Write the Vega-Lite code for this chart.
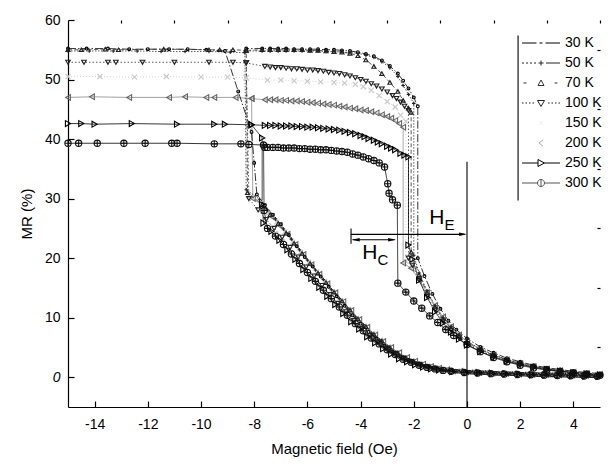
{
"$schema":"https://vega.github.io/schema/vega-lite/v6.json",
"width":532,"height":387,
"autosize":{"type":"none"},
"padding":{"left":68,"top":20,"right":10,"bottom":59},
"background":"white",
"config":{"view":{"stroke":null},"font":"Liberation Sans"},
"datasets":{
"mr":[
{"T":"150 K","b":"u","x":-15,"y":50.5},{"T":"150 K","b":"u","x":-13.8,"y":50.5},{"T":"150 K","b":"u","x":-12.5,"y":50.4},{"T":"150 K","b":"u","x":-11.3,"y":50.5},{"T":"150 K","b":"u","x":-10,"y":50.4},{"T":"150 K","b":"u","x":-9,"y":50.4},{"T":"150 K","b":"u","x":-8.3,"y":50.3},{"T":"150 K","b":"u","x":-8.2,"y":30.5},{"T":"150 K","b":"u","x":-7.75,"y":29.3},{"T":"150 K","b":"u","x":-7.45,"y":27.6},{"T":"150 K","b":"u","x":-7.15,"y":26.1},{"T":"150 K","b":"u","x":-6.85,"y":24.4},{"T":"150 K","b":"u","x":-6.55,"y":22.7},{"T":"150 K","b":"u","x":-6.25,"y":21},{"T":"150 K","b":"u","x":-5.95,"y":19.3},{"T":"150 K","b":"u","x":-5.65,"y":17.7},{"T":"150 K","b":"u","x":-5.35,"y":16.1},{"T":"150 K","b":"u","x":-5.05,"y":14.4},{"T":"150 K","b":"u","x":-4.75,"y":12.9},{"T":"150 K","b":"u","x":-4.45,"y":11.4},{"T":"150 K","b":"u","x":-4.15,"y":9.9},{"T":"150 K","b":"u","x":-3.85,"y":8.6},{"T":"150 K","b":"u","x":-3.55,"y":7.3},{"T":"150 K","b":"u","x":-3.25,"y":6.2},{"T":"150 K","b":"u","x":-2.95,"y":5.1},{"T":"150 K","b":"u","x":-2.65,"y":4.1},{"T":"150 K","b":"u","x":-2.35,"y":3.3},{"T":"150 K","b":"u","x":-2.05,"y":2.7},{"T":"150 K","b":"u","x":-1.75,"y":2.2},{"T":"150 K","b":"u","x":-1.45,"y":1.8},{"T":"150 K","b":"u","x":-1.15,"y":1.5},{"T":"150 K","b":"u","x":-0.85,"y":1.25},{"T":"150 K","b":"u","x":-0.35,"y":1},{"T":"150 K","b":"u","x":0.15,"y":0.85},{"T":"150 K","b":"u","x":0.65,"y":0.75},{"T":"150 K","b":"u","x":1.15,"y":0.65},{"T":"150 K","b":"u","x":1.65,"y":0.6},{"T":"150 K","b":"u","x":2.15,"y":0.5},{"T":"150 K","b":"u","x":2.65,"y":0.45},{"T":"150 K","b":"u","x":3.15,"y":0.4},{"T":"150 K","b":"u","x":3.65,"y":0.35},{"T":"150 K","b":"u","x":4.15,"y":0.3},{"T":"150 K","b":"u","x":4.65,"y":0.25},
{"T":"150 K","b":"d","x":5,"y":0.5},{"T":"150 K","b":"d","x":4.5,"y":0.7},{"T":"150 K","b":"d","x":4,"y":0.9},{"T":"150 K","b":"d","x":3.5,"y":1.15},{"T":"150 K","b":"d","x":3,"y":1.45},{"T":"150 K","b":"d","x":2.5,"y":1.85},{"T":"150 K","b":"d","x":2,"y":2.35},{"T":"150 K","b":"d","x":1.5,"y":3},{"T":"150 K","b":"d","x":1,"y":3.8},{"T":"150 K","b":"d","x":0.5,"y":4.8},{"T":"150 K","b":"d","x":0,"y":6.1},{"T":"150 K","b":"d","x":-0.3,"y":7.2},{"T":"150 K","b":"d","x":-0.6,"y":8.6},{"T":"150 K","b":"d","x":-0.9,"y":10.2},{"T":"150 K","b":"d","x":-1.2,"y":12.2},{"T":"150 K","b":"d","x":-1.5,"y":14.5},{"T":"150 K","b":"d","x":-1.8,"y":16.8},{"T":"150 K","b":"d","x":-2.1,"y":18.8},{"T":"150 K","b":"d","x":-2.3,"y":19.5},{"T":"150 K","b":"d","x":-2.3,"y":43},{"T":"150 K","b":"d","x":-2.5,"y":44},{"T":"150 K","b":"d","x":-2.7,"y":45.4},{"T":"150 K","b":"d","x":-3,"y":46.3},{"T":"150 K","b":"d","x":-3.3,"y":47.3},{"T":"150 K","b":"d","x":-3.6,"y":48.2},{"T":"150 K","b":"d","x":-3.9,"y":48.8},{"T":"150 K","b":"d","x":-4.2,"y":49.2},{"T":"150 K","b":"d","x":-4.6,"y":49.4},{"T":"150 K","b":"d","x":-5,"y":49.5},{"T":"150 K","b":"d","x":-5.5,"y":49.6},{"T":"150 K","b":"d","x":-6,"y":49.7},{"T":"150 K","b":"d","x":-6.5,"y":49.8},{"T":"150 K","b":"d","x":-7,"y":49.9},{"T":"150 K","b":"d","x":-7.5,"y":49.9},{"T":"150 K","b":"d","x":-8.3,"y":50.3},
{"T":"200 K","b":"u","x":-15,"y":47},{"T":"200 K","b":"u","x":-14.1,"y":47.1},{"T":"200 K","b":"u","x":-12.7,"y":47},{"T":"200 K","b":"u","x":-11.2,"y":47},{"T":"200 K","b":"u","x":-10.6,"y":47.1},{"T":"200 K","b":"u","x":-9.8,"y":47},{"T":"200 K","b":"u","x":-9.5,"y":47},{"T":"200 K","b":"u","x":-8.7,"y":47},{"T":"200 K","b":"u","x":-8.1,"y":46.8},{"T":"200 K","b":"u","x":-8.05,"y":30},{"T":"200 K","b":"u","x":-7.65,"y":28.7},{"T":"200 K","b":"u","x":-7.35,"y":27},{"T":"200 K","b":"u","x":-7.05,"y":25.5},{"T":"200 K","b":"u","x":-6.75,"y":24},{"T":"200 K","b":"u","x":-6.45,"y":22.3},{"T":"200 K","b":"u","x":-6.15,"y":20.6},{"T":"200 K","b":"u","x":-5.85,"y":18.9},{"T":"200 K","b":"u","x":-5.55,"y":17.3},{"T":"200 K","b":"u","x":-5.25,"y":15.7},{"T":"200 K","b":"u","x":-4.95,"y":14.2},{"T":"200 K","b":"u","x":-4.65,"y":12.7},{"T":"200 K","b":"u","x":-4.35,"y":11.2},{"T":"200 K","b":"u","x":-4.05,"y":9.7},{"T":"200 K","b":"u","x":-3.75,"y":8.4},{"T":"200 K","b":"u","x":-3.45,"y":7.1},{"T":"200 K","b":"u","x":-3.15,"y":6},{"T":"200 K","b":"u","x":-2.85,"y":5},{"T":"200 K","b":"u","x":-2.55,"y":4.1},{"T":"200 K","b":"u","x":-2.25,"y":3.3},{"T":"200 K","b":"u","x":-1.95,"y":2.7},{"T":"200 K","b":"u","x":-1.65,"y":2.2},{"T":"200 K","b":"u","x":-1.35,"y":1.8},{"T":"200 K","b":"u","x":-1.05,"y":1.5},{"T":"200 K","b":"u","x":-0.75,"y":1.25},{"T":"200 K","b":"u","x":-0.25,"y":1},{"T":"200 K","b":"u","x":0.25,"y":0.85},{"T":"200 K","b":"u","x":0.75,"y":0.75},{"T":"200 K","b":"u","x":1.25,"y":0.65},{"T":"200 K","b":"u","x":1.75,"y":0.6},{"T":"200 K","b":"u","x":2.25,"y":0.5},{"T":"200 K","b":"u","x":2.75,"y":0.45},{"T":"200 K","b":"u","x":3.25,"y":0.4},{"T":"200 K","b":"u","x":3.75,"y":0.35},{"T":"200 K","b":"u","x":4.25,"y":0.3},{"T":"200 K","b":"u","x":4.75,"y":0.25},
{"T":"200 K","b":"d","x":5,"y":0.45},{"T":"200 K","b":"d","x":4.5,"y":0.65},{"T":"200 K","b":"d","x":4,"y":0.85},{"T":"200 K","b":"d","x":3.5,"y":1.1},{"T":"200 K","b":"d","x":3,"y":1.4},{"T":"200 K","b":"d","x":2.5,"y":1.8},{"T":"200 K","b":"d","x":2,"y":2.3},{"T":"200 K","b":"d","x":1.5,"y":2.9},{"T":"200 K","b":"d","x":1,"y":3.7},{"T":"200 K","b":"d","x":0.5,"y":4.7},{"T":"200 K","b":"d","x":0,"y":6},{"T":"200 K","b":"d","x":-0.3,"y":7.1},{"T":"200 K","b":"d","x":-0.6,"y":8.5},{"T":"200 K","b":"d","x":-0.9,"y":10.1},{"T":"200 K","b":"d","x":-1.2,"y":12},{"T":"200 K","b":"d","x":-1.5,"y":14.2},{"T":"200 K","b":"d","x":-1.8,"y":16.4},{"T":"200 K","b":"d","x":-2.1,"y":18.3},{"T":"200 K","b":"d","x":-2.4,"y":19.2},{"T":"200 K","b":"d","x":-2.4,"y":42},{"T":"200 K","b":"d","x":-2.55,"y":42.6},{"T":"200 K","b":"d","x":-2.7,"y":43.1},{"T":"200 K","b":"d","x":-2.85,"y":43.5},{"T":"200 K","b":"d","x":-3,"y":43.8},{"T":"200 K","b":"d","x":-3.2,"y":44.1},{"T":"200 K","b":"d","x":-3.4,"y":44.4},{"T":"200 K","b":"d","x":-3.6,"y":44.6},{"T":"200 K","b":"d","x":-3.8,"y":44.8},{"T":"200 K","b":"d","x":-4,"y":44.9},{"T":"200 K","b":"d","x":-4.2,"y":45.1},{"T":"200 K","b":"d","x":-4.4,"y":45.2},{"T":"200 K","b":"d","x":-4.6,"y":45.4},{"T":"200 K","b":"d","x":-4.8,"y":45.5},{"T":"200 K","b":"d","x":-5,"y":45.7},{"T":"200 K","b":"d","x":-5.2,"y":45.8},{"T":"200 K","b":"d","x":-5.4,"y":45.9},{"T":"200 K","b":"d","x":-5.6,"y":46},{"T":"200 K","b":"d","x":-5.8,"y":46.1},{"T":"200 K","b":"d","x":-6,"y":46.2},{"T":"200 K","b":"d","x":-6.2,"y":46.3},{"T":"200 K","b":"d","x":-6.4,"y":46.4},{"T":"200 K","b":"d","x":-6.6,"y":46.4},{"T":"200 K","b":"d","x":-6.8,"y":46.5},{"T":"200 K","b":"d","x":-7,"y":46.5},{"T":"200 K","b":"d","x":-7.2,"y":46.6},{"T":"200 K","b":"d","x":-7.4,"y":46.6},{"T":"200 K","b":"d","x":-7.6,"y":46.6},{"T":"200 K","b":"d","x":-8.1,"y":46.8},
{"T":"30 K","b":"u","x":-15,"y":55.2},{"T":"30 K","b":"u","x":-14.3,"y":55.2},{"T":"30 K","b":"u","x":-13.5,"y":55.2},{"T":"30 K","b":"u","x":-12.7,"y":55.1},{"T":"30 K","b":"u","x":-12,"y":55.1},{"T":"30 K","b":"u","x":-11.2,"y":55.1},{"T":"30 K","b":"u","x":-10.5,"y":55.1},{"T":"30 K","b":"u","x":-9.8,"y":55},{"T":"30 K","b":"u","x":-9.1,"y":54.8},{"T":"30 K","b":"u","x":-8.6,"y":48},{"T":"30 K","b":"u","x":-8.1,"y":41.2},{"T":"30 K","b":"u","x":-8,"y":36},{"T":"30 K","b":"u","x":-7.9,"y":30.7},{"T":"30 K","b":"u","x":-7.6,"y":28.9},{"T":"30 K","b":"u","x":-7.3,"y":27.3},{"T":"30 K","b":"u","x":-7,"y":25.7},{"T":"30 K","b":"u","x":-6.7,"y":23.9},{"T":"30 K","b":"u","x":-6.4,"y":22},{"T":"30 K","b":"u","x":-6.1,"y":20.2},{"T":"30 K","b":"u","x":-5.8,"y":18.6},{"T":"30 K","b":"u","x":-5.5,"y":16.9},{"T":"30 K","b":"u","x":-5.2,"y":15.2},{"T":"30 K","b":"u","x":-4.9,"y":13.6},{"T":"30 K","b":"u","x":-4.6,"y":12},{"T":"30 K","b":"u","x":-4.3,"y":10.4},{"T":"30 K","b":"u","x":-4,"y":9},{"T":"30 K","b":"u","x":-3.7,"y":7.6},{"T":"30 K","b":"u","x":-3.4,"y":6.5},{"T":"30 K","b":"u","x":-3.1,"y":5.3},{"T":"30 K","b":"u","x":-2.8,"y":4.3},{"T":"30 K","b":"u","x":-2.5,"y":3.5},{"T":"30 K","b":"u","x":-2.2,"y":2.9},{"T":"30 K","b":"u","x":-1.9,"y":2.3},{"T":"30 K","b":"u","x":-1.6,"y":1.9},{"T":"30 K","b":"u","x":-1.3,"y":1.6},{"T":"30 K","b":"u","x":-1,"y":1.3},{"T":"30 K","b":"u","x":-0.5,"y":1.05},{"T":"30 K","b":"u","x":0,"y":0.9},{"T":"30 K","b":"u","x":0.5,"y":0.8},{"T":"30 K","b":"u","x":1,"y":0.7},{"T":"30 K","b":"u","x":1.5,"y":0.6},{"T":"30 K","b":"u","x":2,"y":0.55},{"T":"30 K","b":"u","x":2.5,"y":0.5},{"T":"30 K","b":"u","x":3,"y":0.45},{"T":"30 K","b":"u","x":3.5,"y":0.4},{"T":"30 K","b":"u","x":4,"y":0.35},{"T":"30 K","b":"u","x":4.5,"y":0.3},{"T":"30 K","b":"u","x":5,"y":0.25},
{"T":"30 K","b":"d","x":5,"y":0.6},{"T":"30 K","b":"d","x":4.5,"y":0.8},{"T":"30 K","b":"d","x":4,"y":1},{"T":"30 K","b":"d","x":3.5,"y":1.3},{"T":"30 K","b":"d","x":3,"y":1.6},{"T":"30 K","b":"d","x":2.5,"y":2},{"T":"30 K","b":"d","x":2,"y":2.6},{"T":"30 K","b":"d","x":1.5,"y":3.2},{"T":"30 K","b":"d","x":1,"y":4.1},{"T":"30 K","b":"d","x":0.5,"y":5.1},{"T":"30 K","b":"d","x":0,"y":6.5},{"T":"30 K","b":"d","x":-0.4,"y":8},{"T":"30 K","b":"d","x":-0.7,"y":9.5},{"T":"30 K","b":"d","x":-1,"y":11.5},{"T":"30 K","b":"d","x":-1.3,"y":14},{"T":"30 K","b":"d","x":-1.6,"y":17},{"T":"30 K","b":"d","x":-1.85,"y":20},{"T":"30 K","b":"d","x":-1.85,"y":45.5},{"T":"30 K","b":"d","x":-2,"y":47},{"T":"30 K","b":"d","x":-2.2,"y":48.5},{"T":"30 K","b":"d","x":-2.4,"y":49.8},{"T":"30 K","b":"d","x":-2.6,"y":51},{"T":"30 K","b":"d","x":-2.9,"y":52.3},{"T":"30 K","b":"d","x":-3.2,"y":53.2},{"T":"30 K","b":"d","x":-3.5,"y":53.9},{"T":"30 K","b":"d","x":-3.8,"y":54.3},{"T":"30 K","b":"d","x":-4.1,"y":54.6},{"T":"30 K","b":"d","x":-4.4,"y":54.8},{"T":"30 K","b":"d","x":-4.7,"y":54.9},{"T":"30 K","b":"d","x":-5,"y":55},{"T":"30 K","b":"d","x":-5.3,"y":55},{"T":"30 K","b":"d","x":-5.6,"y":55.1},{"T":"30 K","b":"d","x":-5.9,"y":55.1},{"T":"30 K","b":"d","x":-6.2,"y":55.1},{"T":"30 K","b":"d","x":-6.5,"y":55.1},{"T":"30 K","b":"d","x":-6.8,"y":55.2},{"T":"30 K","b":"d","x":-7.1,"y":55.2},{"T":"30 K","b":"d","x":-7.4,"y":55.2},{"T":"30 K","b":"d","x":-7.7,"y":55.2},{"T":"30 K","b":"d","x":-8.3,"y":55.2},
{"T":"50 K","b":"u","x":-15,"y":54.8},{"T":"50 K","b":"u","x":-14.2,"y":54.8},{"T":"50 K","b":"u","x":-13.3,"y":54.8},{"T":"50 K","b":"u","x":-12.4,"y":54.8},{"T":"50 K","b":"u","x":-11.5,"y":54.7},{"T":"50 K","b":"u","x":-10.6,"y":54.7},{"T":"50 K","b":"u","x":-9.7,"y":54.7},{"T":"50 K","b":"u","x":-8.9,"y":54.6},{"T":"50 K","b":"u","x":-8.35,"y":54.5},{"T":"50 K","b":"u","x":-8.3,"y":31.5},{"T":"50 K","b":"u","x":-7.8,"y":29.9},{"T":"50 K","b":"u","x":-7.5,"y":28.1},{"T":"50 K","b":"u","x":-7.2,"y":26.6},{"T":"50 K","b":"u","x":-6.9,"y":24.9},{"T":"50 K","b":"u","x":-6.6,"y":23.2},{"T":"50 K","b":"u","x":-6.3,"y":21.4},{"T":"50 K","b":"u","x":-6,"y":19.7},{"T":"50 K","b":"u","x":-5.7,"y":18},{"T":"50 K","b":"u","x":-5.4,"y":16.4},{"T":"50 K","b":"u","x":-5.1,"y":14.7},{"T":"50 K","b":"u","x":-4.8,"y":13.2},{"T":"50 K","b":"u","x":-4.5,"y":11.6},{"T":"50 K","b":"u","x":-4.2,"y":10.1},{"T":"50 K","b":"u","x":-3.9,"y":8.8},{"T":"50 K","b":"u","x":-3.6,"y":7.4},{"T":"50 K","b":"u","x":-3.3,"y":6.3},{"T":"50 K","b":"u","x":-3,"y":5.2},{"T":"50 K","b":"u","x":-2.7,"y":4.2},{"T":"50 K","b":"u","x":-2.4,"y":3.4},{"T":"50 K","b":"u","x":-2.1,"y":2.8},{"T":"50 K","b":"u","x":-1.8,"y":2.3},{"T":"50 K","b":"u","x":-1.5,"y":1.9},{"T":"50 K","b":"u","x":-1.2,"y":1.5},{"T":"50 K","b":"u","x":-0.9,"y":1.3},{"T":"50 K","b":"u","x":-0.4,"y":1},{"T":"50 K","b":"u","x":0.1,"y":0.85},{"T":"50 K","b":"u","x":0.6,"y":0.75},{"T":"50 K","b":"u","x":1.1,"y":0.65},{"T":"50 K","b":"u","x":1.6,"y":0.6},{"T":"50 K","b":"u","x":2.1,"y":0.5},{"T":"50 K","b":"u","x":2.6,"y":0.45},{"T":"50 K","b":"u","x":3.1,"y":0.4},{"T":"50 K","b":"u","x":3.6,"y":0.35},{"T":"50 K","b":"u","x":4.1,"y":0.3},{"T":"50 K","b":"u","x":4.6,"y":0.25},{"T":"50 K","b":"u","x":5,"y":0.2},
{"T":"50 K","b":"d","x":5,"y":0.5},{"T":"50 K","b":"d","x":4.5,"y":0.7},{"T":"50 K","b":"d","x":4,"y":0.95},{"T":"50 K","b":"d","x":3.5,"y":1.2},{"T":"50 K","b":"d","x":3,"y":1.5},{"T":"50 K","b":"d","x":2.5,"y":1.9},{"T":"50 K","b":"d","x":2,"y":2.4},{"T":"50 K","b":"d","x":1.5,"y":3},{"T":"50 K","b":"d","x":1,"y":3.8},{"T":"50 K","b":"d","x":0.5,"y":4.8},{"T":"50 K","b":"d","x":0,"y":6},{"T":"50 K","b":"d","x":-0.3,"y":7.2},{"T":"50 K","b":"d","x":-0.6,"y":8.5},{"T":"50 K","b":"d","x":-0.9,"y":10},{"T":"50 K","b":"d","x":-1.2,"y":12},{"T":"50 K","b":"d","x":-1.5,"y":14.5},{"T":"50 K","b":"d","x":-1.8,"y":17.5},{"T":"50 K","b":"d","x":-2,"y":20.5},{"T":"50 K","b":"d","x":-2,"y":46},{"T":"50 K","b":"d","x":-2.2,"y":47.5},{"T":"50 K","b":"d","x":-2.4,"y":49},{"T":"50 K","b":"d","x":-2.6,"y":50.5},{"T":"50 K","b":"d","x":-2.9,"y":52},{"T":"50 K","b":"d","x":-3.2,"y":53},{"T":"50 K","b":"d","x":-3.5,"y":53.7},{"T":"50 K","b":"d","x":-3.8,"y":54.1},{"T":"50 K","b":"d","x":-4.1,"y":54.4},{"T":"50 K","b":"d","x":-4.4,"y":54.5},{"T":"50 K","b":"d","x":-4.7,"y":54.6},{"T":"50 K","b":"d","x":-5,"y":54.7},{"T":"50 K","b":"d","x":-5.3,"y":54.7},{"T":"50 K","b":"d","x":-5.6,"y":54.8},{"T":"50 K","b":"d","x":-5.9,"y":54.8},{"T":"50 K","b":"d","x":-6.2,"y":54.8},{"T":"50 K","b":"d","x":-6.5,"y":54.8},{"T":"50 K","b":"d","x":-6.8,"y":54.8},{"T":"50 K","b":"d","x":-7.1,"y":54.8},{"T":"50 K","b":"d","x":-7.4,"y":54.8},{"T":"50 K","b":"d","x":-7.7,"y":54.8},{"T":"50 K","b":"d","x":-8.35,"y":54.8},
{"T":"70 K","b":"u","x":-15,"y":55},{"T":"70 K","b":"u","x":-14.5,"y":55},{"T":"70 K","b":"u","x":-13.6,"y":55.1},{"T":"70 K","b":"u","x":-13.1,"y":55},{"T":"70 K","b":"u","x":-11.4,"y":55.1},{"T":"70 K","b":"u","x":-9.7,"y":55},{"T":"70 K","b":"u","x":-9.3,"y":55},{"T":"70 K","b":"u","x":-8.8,"y":55},{"T":"70 K","b":"u","x":-8.3,"y":54.9},{"T":"70 K","b":"u","x":-8.25,"y":31},{"T":"70 K","b":"u","x":-7.7,"y":29},{"T":"70 K","b":"u","x":-7.4,"y":27.3},{"T":"70 K","b":"u","x":-7.1,"y":25.8},{"T":"70 K","b":"u","x":-6.8,"y":24.2},{"T":"70 K","b":"u","x":-6.5,"y":22.5},{"T":"70 K","b":"u","x":-6.2,"y":20.8},{"T":"70 K","b":"u","x":-5.9,"y":19.1},{"T":"70 K","b":"u","x":-5.6,"y":17.5},{"T":"70 K","b":"u","x":-5.3,"y":15.9},{"T":"70 K","b":"u","x":-5,"y":14.3},{"T":"70 K","b":"u","x":-4.7,"y":12.8},{"T":"70 K","b":"u","x":-4.4,"y":11.3},{"T":"70 K","b":"u","x":-4.1,"y":9.8},{"T":"70 K","b":"u","x":-3.8,"y":8.5},{"T":"70 K","b":"u","x":-3.5,"y":7.2},{"T":"70 K","b":"u","x":-3.2,"y":6.1},{"T":"70 K","b":"u","x":-2.9,"y":5},{"T":"70 K","b":"u","x":-2.6,"y":4.1},{"T":"70 K","b":"u","x":-2.3,"y":3.3},{"T":"70 K","b":"u","x":-2,"y":2.7},{"T":"70 K","b":"u","x":-1.7,"y":2.2},{"T":"70 K","b":"u","x":-1.4,"y":1.8},{"T":"70 K","b":"u","x":-1.1,"y":1.5},{"T":"70 K","b":"u","x":-0.8,"y":1.25},{"T":"70 K","b":"u","x":-0.3,"y":1},{"T":"70 K","b":"u","x":0.2,"y":0.85},{"T":"70 K","b":"u","x":0.7,"y":0.75},{"T":"70 K","b":"u","x":1.2,"y":0.65},{"T":"70 K","b":"u","x":1.7,"y":0.6},{"T":"70 K","b":"u","x":2.2,"y":0.5},{"T":"70 K","b":"u","x":2.7,"y":0.45},{"T":"70 K","b":"u","x":3.2,"y":0.4},{"T":"70 K","b":"u","x":3.7,"y":0.35},{"T":"70 K","b":"u","x":4.2,"y":0.3},{"T":"70 K","b":"u","x":4.7,"y":0.25},
{"T":"70 K","b":"d","x":5,"y":0.45},{"T":"70 K","b":"d","x":4.5,"y":0.65},{"T":"70 K","b":"d","x":4,"y":0.85},{"T":"70 K","b":"d","x":3.5,"y":1.1},{"T":"70 K","b":"d","x":3,"y":1.4},{"T":"70 K","b":"d","x":2.5,"y":1.8},{"T":"70 K","b":"d","x":2,"y":2.3},{"T":"70 K","b":"d","x":1.5,"y":2.9},{"T":"70 K","b":"d","x":1,"y":3.7},{"T":"70 K","b":"d","x":0.5,"y":4.6},{"T":"70 K","b":"d","x":0,"y":5.8},{"T":"70 K","b":"d","x":-0.3,"y":6.9},{"T":"70 K","b":"d","x":-0.6,"y":8.2},{"T":"70 K","b":"d","x":-0.9,"y":9.8},{"T":"70 K","b":"d","x":-1.2,"y":11.8},{"T":"70 K","b":"d","x":-1.5,"y":14.2},{"T":"70 K","b":"d","x":-1.8,"y":17.2},{"T":"70 K","b":"d","x":-2.1,"y":21},{"T":"70 K","b":"d","x":-2.1,"y":44.5},{"T":"70 K","b":"d","x":-2.2,"y":45.2},{"T":"70 K","b":"d","x":-2.4,"y":46.5},{"T":"70 K","b":"d","x":-2.6,"y":48},{"T":"70 K","b":"d","x":-2.9,"y":49.5},{"T":"70 K","b":"d","x":-3.2,"y":51},{"T":"70 K","b":"d","x":-3.5,"y":52.2},{"T":"70 K","b":"d","x":-3.8,"y":53.3},{"T":"70 K","b":"d","x":-4.1,"y":54},{"T":"70 K","b":"d","x":-4.4,"y":54.4},{"T":"70 K","b":"d","x":-4.7,"y":54.6},{"T":"70 K","b":"d","x":-5,"y":54.7},{"T":"70 K","b":"d","x":-5.3,"y":54.8},{"T":"70 K","b":"d","x":-5.6,"y":54.9},{"T":"70 K","b":"d","x":-5.9,"y":54.9},{"T":"70 K","b":"d","x":-6.2,"y":55},{"T":"70 K","b":"d","x":-6.5,"y":55},{"T":"70 K","b":"d","x":-6.8,"y":55},{"T":"70 K","b":"d","x":-7.1,"y":55},{"T":"70 K","b":"d","x":-7.4,"y":55},{"T":"70 K","b":"d","x":-7.7,"y":55},{"T":"70 K","b":"d","x":-8.3,"y":54.9},
{"T":"100 K","b":"u","x":-15,"y":52.9},{"T":"100 K","b":"u","x":-14.4,"y":52.9},{"T":"100 K","b":"u","x":-13.5,"y":52.9},{"T":"100 K","b":"u","x":-13.2,"y":52.9},{"T":"100 K","b":"u","x":-12.2,"y":52.9},{"T":"100 K","b":"u","x":-11,"y":52.9},{"T":"100 K","b":"u","x":-9.7,"y":52.9},{"T":"100 K","b":"u","x":-8.8,"y":52.9},{"T":"100 K","b":"u","x":-8.3,"y":52.8},{"T":"100 K","b":"u","x":-8.2,"y":30},{"T":"100 K","b":"u","x":-7.85,"y":28.1},{"T":"100 K","b":"u","x":-7.55,"y":26.5},{"T":"100 K","b":"u","x":-7.25,"y":25},{"T":"100 K","b":"u","x":-6.95,"y":23.5},{"T":"100 K","b":"u","x":-6.65,"y":21.8},{"T":"100 K","b":"u","x":-6.35,"y":20.2},{"T":"100 K","b":"u","x":-6.05,"y":18.5},{"T":"100 K","b":"u","x":-5.75,"y":17},{"T":"100 K","b":"u","x":-5.45,"y":15.4},{"T":"100 K","b":"u","x":-5.15,"y":13.9},{"T":"100 K","b":"u","x":-4.85,"y":12.4},{"T":"100 K","b":"u","x":-4.55,"y":11},{"T":"100 K","b":"u","x":-4.25,"y":9.5},{"T":"100 K","b":"u","x":-3.95,"y":8.2},{"T":"100 K","b":"u","x":-3.65,"y":7},{"T":"100 K","b":"u","x":-3.35,"y":5.9},{"T":"100 K","b":"u","x":-3.05,"y":4.9},{"T":"100 K","b":"u","x":-2.75,"y":4},{"T":"100 K","b":"u","x":-2.45,"y":3.2},{"T":"100 K","b":"u","x":-2.15,"y":2.6},{"T":"100 K","b":"u","x":-1.85,"y":2.1},{"T":"100 K","b":"u","x":-1.55,"y":1.75},{"T":"100 K","b":"u","x":-1.25,"y":1.45},{"T":"100 K","b":"u","x":-0.95,"y":1.2},{"T":"100 K","b":"u","x":-0.45,"y":0.95},{"T":"100 K","b":"u","x":0.05,"y":0.8},{"T":"100 K","b":"u","x":0.55,"y":0.7},{"T":"100 K","b":"u","x":1.05,"y":0.6},{"T":"100 K","b":"u","x":1.55,"y":0.55},{"T":"100 K","b":"u","x":2.05,"y":0.45},{"T":"100 K","b":"u","x":2.55,"y":0.4},{"T":"100 K","b":"u","x":3.05,"y":0.35},{"T":"100 K","b":"u","x":3.55,"y":0.3},{"T":"100 K","b":"u","x":4.05,"y":0.25},{"T":"100 K","b":"u","x":4.55,"y":0.2},{"T":"100 K","b":"u","x":5,"y":0.15},
{"T":"100 K","b":"d","x":5,"y":0.4},{"T":"100 K","b":"d","x":4.5,"y":0.6},{"T":"100 K","b":"d","x":4,"y":0.8},{"T":"100 K","b":"d","x":3.5,"y":1.05},{"T":"100 K","b":"d","x":3,"y":1.35},{"T":"100 K","b":"d","x":2.5,"y":1.7},{"T":"100 K","b":"d","x":2,"y":2.2},{"T":"100 K","b":"d","x":1.5,"y":2.8},{"T":"100 K","b":"d","x":1,"y":3.5},{"T":"100 K","b":"d","x":0.5,"y":4.4},{"T":"100 K","b":"d","x":0,"y":5.6},{"T":"100 K","b":"d","x":-0.3,"y":6.6},{"T":"100 K","b":"d","x":-0.6,"y":7.9},{"T":"100 K","b":"d","x":-0.9,"y":9.4},{"T":"100 K","b":"d","x":-1.2,"y":11.3},{"T":"100 K","b":"d","x":-1.5,"y":13.6},{"T":"100 K","b":"d","x":-1.8,"y":16.3},{"T":"100 K","b":"d","x":-2.05,"y":18.8},{"T":"100 K","b":"d","x":-2.2,"y":20},{"T":"100 K","b":"d","x":-2.2,"y":44.8},{"T":"100 K","b":"d","x":-2.35,"y":45.5},{"T":"100 K","b":"d","x":-2.5,"y":46.2},{"T":"100 K","b":"d","x":-2.65,"y":46.8},{"T":"100 K","b":"d","x":-2.8,"y":47.3},{"T":"100 K","b":"d","x":-3,"y":47.9},{"T":"100 K","b":"d","x":-3.2,"y":48.4},{"T":"100 K","b":"d","x":-3.4,"y":48.9},{"T":"100 K","b":"d","x":-3.6,"y":49.3},{"T":"100 K","b":"d","x":-3.8,"y":49.7},{"T":"100 K","b":"d","x":-4,"y":50},{"T":"100 K","b":"d","x":-4.2,"y":50.3},{"T":"100 K","b":"d","x":-4.4,"y":50.6},{"T":"100 K","b":"d","x":-4.6,"y":50.8},{"T":"100 K","b":"d","x":-4.8,"y":51},{"T":"100 K","b":"d","x":-5,"y":51.1},{"T":"100 K","b":"d","x":-5.2,"y":51.2},{"T":"100 K","b":"d","x":-5.4,"y":51.4},{"T":"100 K","b":"d","x":-5.6,"y":51.5},{"T":"100 K","b":"d","x":-5.8,"y":51.6},{"T":"100 K","b":"d","x":-6,"y":51.6},{"T":"100 K","b":"d","x":-6.2,"y":51.7},{"T":"100 K","b":"d","x":-6.4,"y":51.8},{"T":"100 K","b":"d","x":-6.6,"y":51.8},{"T":"100 K","b":"d","x":-6.8,"y":51.9},{"T":"100 K","b":"d","x":-7,"y":52},{"T":"100 K","b":"d","x":-7.2,"y":52},{"T":"100 K","b":"d","x":-7.4,"y":52.1},{"T":"100 K","b":"d","x":-7.6,"y":52.2},{"T":"100 K","b":"d","x":-8.3,"y":52.8},
{"T":"250 K","b":"u","x":-15,"y":42.6},{"T":"250 K","b":"u","x":-14.5,"y":42.6},{"T":"250 K","b":"u","x":-14,"y":42.5},{"T":"250 K","b":"u","x":-12.6,"y":42.6},{"T":"250 K","b":"u","x":-10.9,"y":42.5},{"T":"250 K","b":"u","x":-9.5,"y":42.5},{"T":"250 K","b":"u","x":-9.1,"y":42.5},{"T":"250 K","b":"u","x":-8.1,"y":42.4},{"T":"250 K","b":"u","x":-7.7,"y":40.2},{"T":"250 K","b":"u","x":-7.7,"y":29},{"T":"250 K","b":"u","x":-7.65,"y":25.9},{"T":"250 K","b":"u","x":-7.35,"y":24.5},{"T":"250 K","b":"u","x":-7.05,"y":23},{"T":"250 K","b":"u","x":-6.75,"y":21.4},{"T":"250 K","b":"u","x":-6.45,"y":19.8},{"T":"250 K","b":"u","x":-6.15,"y":18.1},{"T":"250 K","b":"u","x":-5.85,"y":16.6},{"T":"250 K","b":"u","x":-5.55,"y":15.1},{"T":"250 K","b":"u","x":-5.25,"y":13.6},{"T":"250 K","b":"u","x":-4.95,"y":12.2},{"T":"250 K","b":"u","x":-4.65,"y":10.7},{"T":"250 K","b":"u","x":-4.35,"y":9.3},{"T":"250 K","b":"u","x":-4.05,"y":8.1},{"T":"250 K","b":"u","x":-3.75,"y":6.8},{"T":"250 K","b":"u","x":-3.45,"y":5.8},{"T":"250 K","b":"u","x":-3.15,"y":4.8},{"T":"250 K","b":"u","x":-2.85,"y":3.9},{"T":"250 K","b":"u","x":-2.55,"y":3.1},{"T":"250 K","b":"u","x":-2.25,"y":2.6},{"T":"250 K","b":"u","x":-1.95,"y":2.1},{"T":"250 K","b":"u","x":-1.65,"y":1.7},{"T":"250 K","b":"u","x":-1.35,"y":1.4},{"T":"250 K","b":"u","x":-1.05,"y":1.2},{"T":"250 K","b":"u","x":-0.55,"y":0.95},{"T":"250 K","b":"u","x":-0.05,"y":0.8},{"T":"250 K","b":"u","x":0.45,"y":0.7},{"T":"250 K","b":"u","x":0.95,"y":0.6},{"T":"250 K","b":"u","x":1.45,"y":0.55},{"T":"250 K","b":"u","x":1.95,"y":0.45},{"T":"250 K","b":"u","x":2.45,"y":0.4},{"T":"250 K","b":"u","x":2.95,"y":0.35},{"T":"250 K","b":"u","x":3.45,"y":0.3},{"T":"250 K","b":"u","x":3.95,"y":0.25},{"T":"250 K","b":"u","x":4.45,"y":0.2},{"T":"250 K","b":"u","x":4.95,"y":0.15},
{"T":"250 K","b":"d","x":5,"y":0.4},{"T":"250 K","b":"d","x":4.5,"y":0.55},{"T":"250 K","b":"d","x":4,"y":0.75},{"T":"250 K","b":"d","x":3.5,"y":1},{"T":"250 K","b":"d","x":3,"y":1.3},{"T":"250 K","b":"d","x":2.5,"y":1.65},{"T":"250 K","b":"d","x":2,"y":2.1},{"T":"250 K","b":"d","x":1.5,"y":2.7},{"T":"250 K","b":"d","x":1,"y":3.4},{"T":"250 K","b":"d","x":0.5,"y":4.3},{"T":"250 K","b":"d","x":0,"y":5.4},{"T":"250 K","b":"d","x":-0.3,"y":6.4},{"T":"250 K","b":"d","x":-0.6,"y":7.6},{"T":"250 K","b":"d","x":-0.9,"y":9.1},{"T":"250 K","b":"d","x":-1.2,"y":11},{"T":"250 K","b":"d","x":-1.5,"y":13.4},{"T":"250 K","b":"d","x":-1.8,"y":16.3},{"T":"250 K","b":"d","x":-2.05,"y":19.8},{"T":"250 K","b":"d","x":-2.2,"y":22.2},{"T":"250 K","b":"d","x":-2.2,"y":37},{"T":"250 K","b":"d","x":-2.35,"y":37.3},{"T":"250 K","b":"d","x":-2.5,"y":37.6},{"T":"250 K","b":"d","x":-2.7,"y":38.2},{"T":"250 K","b":"d","x":-2.85,"y":38.5},{"T":"250 K","b":"d","x":-3,"y":38.8},{"T":"250 K","b":"d","x":-3.2,"y":39.2},{"T":"250 K","b":"d","x":-3.35,"y":39.5},{"T":"250 K","b":"d","x":-3.5,"y":39.8},{"T":"250 K","b":"d","x":-3.7,"y":40.1},{"T":"250 K","b":"d","x":-3.85,"y":40.4},{"T":"250 K","b":"d","x":-4,"y":40.6},{"T":"250 K","b":"d","x":-4.2,"y":40.9},{"T":"250 K","b":"d","x":-4.4,"y":41.1},{"T":"250 K","b":"d","x":-4.6,"y":41.3},{"T":"250 K","b":"d","x":-4.8,"y":41.5},{"T":"250 K","b":"d","x":-5,"y":41.6},{"T":"250 K","b":"d","x":-5.2,"y":41.7},{"T":"250 K","b":"d","x":-5.4,"y":41.8},{"T":"250 K","b":"d","x":-5.6,"y":41.9},{"T":"250 K","b":"d","x":-5.8,"y":42},{"T":"250 K","b":"d","x":-6,"y":42},{"T":"250 K","b":"d","x":-6.2,"y":42.1},{"T":"250 K","b":"d","x":-6.4,"y":42.1},{"T":"250 K","b":"d","x":-6.6,"y":42.2},{"T":"250 K","b":"d","x":-6.8,"y":42.2},{"T":"250 K","b":"d","x":-7,"y":42.2},{"T":"250 K","b":"d","x":-7.2,"y":42.3},{"T":"250 K","b":"d","x":-7.4,"y":42.3},{"T":"250 K","b":"d","x":-7.6,"y":42.3},{"T":"250 K","b":"d","x":-8.1,"y":42.4},
{"T":"300 K","b":"u","x":-15,"y":39.3},{"T":"300 K","b":"u","x":-14.6,"y":39.3},{"T":"300 K","b":"u","x":-13.9,"y":39.3},{"T":"300 K","b":"u","x":-12.9,"y":39.3},{"T":"300 K","b":"u","x":-12.1,"y":39.3},{"T":"300 K","b":"u","x":-11.1,"y":39.3},{"T":"300 K","b":"u","x":-10.9,"y":39.3},{"T":"300 K","b":"u","x":-9.5,"y":39.2},{"T":"300 K","b":"u","x":-8.5,"y":39.2},{"T":"300 K","b":"u","x":-8.2,"y":39.1},{"T":"300 K","b":"u","x":-7.65,"y":39},{"T":"300 K","b":"u","x":-7.63,"y":28},{"T":"300 K","b":"u","x":-7.5,"y":25},{"T":"300 K","b":"u","x":-7.2,"y":23.7},{"T":"300 K","b":"u","x":-6.9,"y":22.3},{"T":"300 K","b":"u","x":-6.6,"y":20.7},{"T":"300 K","b":"u","x":-6.3,"y":19.1},{"T":"300 K","b":"u","x":-6,"y":17.6},{"T":"300 K","b":"u","x":-5.7,"y":16.1},{"T":"300 K","b":"u","x":-5.4,"y":14.6},{"T":"300 K","b":"u","x":-5.1,"y":13.2},{"T":"300 K","b":"u","x":-4.8,"y":11.8},{"T":"300 K","b":"u","x":-4.5,"y":10.4},{"T":"300 K","b":"u","x":-4.2,"y":9},{"T":"300 K","b":"u","x":-3.9,"y":7.8},{"T":"300 K","b":"u","x":-3.6,"y":6.6},{"T":"300 K","b":"u","x":-3.3,"y":5.6},{"T":"300 K","b":"u","x":-3,"y":4.6},{"T":"300 K","b":"u","x":-2.7,"y":3.8},{"T":"300 K","b":"u","x":-2.4,"y":3},{"T":"300 K","b":"u","x":-2.1,"y":2.5},{"T":"300 K","b":"u","x":-1.8,"y":2},{"T":"300 K","b":"u","x":-1.5,"y":1.65},{"T":"300 K","b":"u","x":-1.2,"y":1.4},{"T":"300 K","b":"u","x":-0.9,"y":1.15},{"T":"300 K","b":"u","x":-0.6,"y":1},{"T":"300 K","b":"u","x":-0.1,"y":0.8},{"T":"300 K","b":"u","x":0.4,"y":0.7},{"T":"300 K","b":"u","x":0.9,"y":0.6},{"T":"300 K","b":"u","x":1.4,"y":0.55},{"T":"300 K","b":"u","x":1.9,"y":0.45},{"T":"300 K","b":"u","x":2.4,"y":0.4},{"T":"300 K","b":"u","x":2.9,"y":0.35},{"T":"300 K","b":"u","x":3.4,"y":0.3},{"T":"300 K","b":"u","x":3.9,"y":0.25},{"T":"300 K","b":"u","x":4.4,"y":0.2},{"T":"300 K","b":"u","x":4.9,"y":0.15},
{"T":"300 K","b":"d","x":5,"y":0.35},{"T":"300 K","b":"d","x":4.5,"y":0.5},{"T":"300 K","b":"d","x":4,"y":0.7},{"T":"300 K","b":"d","x":3.5,"y":0.95},{"T":"300 K","b":"d","x":3,"y":1.2},{"T":"300 K","b":"d","x":2.5,"y":1.55},{"T":"300 K","b":"d","x":2,"y":2},{"T":"300 K","b":"d","x":1.5,"y":2.6},{"T":"300 K","b":"d","x":1,"y":3.3},{"T":"300 K","b":"d","x":0.5,"y":4.3},{"T":"300 K","b":"d","x":0,"y":5.5},{"T":"300 K","b":"d","x":-0.5,"y":7},{"T":"300 K","b":"d","x":-0.8,"y":8},{"T":"300 K","b":"d","x":-1.1,"y":9.2},{"T":"300 K","b":"d","x":-1.4,"y":10.3},{"T":"300 K","b":"d","x":-1.7,"y":11.6},{"T":"300 K","b":"d","x":-2,"y":12.8},{"T":"300 K","b":"d","x":-2.3,"y":14.3},{"T":"300 K","b":"d","x":-2.6,"y":15.8},{"T":"300 K","b":"d","x":-2.62,"y":28.9},{"T":"300 K","b":"d","x":-2.8,"y":29.8},{"T":"300 K","b":"d","x":-2.93,"y":30.9},{"T":"300 K","b":"d","x":-2.98,"y":32.5},{"T":"300 K","b":"d","x":-3.1,"y":35.3},{"T":"300 K","b":"d","x":-3.3,"y":36},{"T":"300 K","b":"d","x":-3.5,"y":36.4},{"T":"300 K","b":"d","x":-3.7,"y":36.7},{"T":"300 K","b":"d","x":-3.9,"y":37},{"T":"300 K","b":"d","x":-4.1,"y":37.3},{"T":"300 K","b":"d","x":-4.3,"y":37.5},{"T":"300 K","b":"d","x":-4.5,"y":37.8},{"T":"300 K","b":"d","x":-4.7,"y":37.9},{"T":"300 K","b":"d","x":-4.9,"y":38},{"T":"300 K","b":"d","x":-5.1,"y":38.1},{"T":"300 K","b":"d","x":-5.3,"y":38.2},{"T":"300 K","b":"d","x":-5.5,"y":38.2},{"T":"300 K","b":"d","x":-5.7,"y":38.3},{"T":"300 K","b":"d","x":-5.9,"y":38.3},{"T":"300 K","b":"d","x":-6.1,"y":38.4},{"T":"300 K","b":"d","x":-6.3,"y":38.4},{"T":"300 K","b":"d","x":-6.5,"y":38.5},{"T":"300 K","b":"d","x":-6.7,"y":38.5},{"T":"300 K","b":"d","x":-6.9,"y":38.5},{"T":"300 K","b":"d","x":-7.1,"y":38.6},{"T":"300 K","b":"d","x":-7.3,"y":38.6},{"T":"300 K","b":"d","x":-7.5,"y":38.6},{"T":"300 K","b":"d","x":-7.6,"y":38.6}
],
"vr":[{"x":0,"y":36.2,"y2":-5},{"x":-4.36,"y":25,"y2":22.4},{"x":1.92,"y":57.4,"y2":29.7}],
"hr":[{"x":-4.36,"x2":-0.1,"y":24},{"x":-4.3,"x2":-2.72,"y":23.1}],
"ah":[{"x":-0.15,"y":24,"s":"R"},{"x":-4.18,"y":23.1,"s":"L"},{"x":-2.82,"y":23.1,"s":"R"}],
"tx1":[{"x":-1.13,"y":26.8,"t":"H"},{"x":-3.65,"y":20.8,"t":"H"}],
"tx2":[{"x":-0.66,"y":25.6,"t":"E"},{"x":-3.16,"y":19.7,"t":"C"}],
"leg":[{"T":"30 K"},{"T":"50 K"},{"T":"70 K"},{"T":"100 K"},{"T":"150 K"},{"T":"200 K"},{"T":"250 K"},{"T":"300 K"}]
},
"layer":[
{"data":{"name":"mr"},"mark":{"type":"line","strokeWidth":0.8},
 "encoding":{
  "x":{"field":"x","type":"quantitative","scale":{"domain":[-15,5],"nice":false,"zero":false},
   "axis":{"values":[-14,-12,-10,-8,-6,-4,-2,0,2,4],"labelExpr":"'' + datum.value","tickSize":-6,"tickWidth":1.2,"tickColor":"black","domainColor":"black","domainWidth":1.2,"labelFontSize":14,"labelColor":"black","labelFont":"Liberation Sans","labelPadding":16,"labelFlush":false,"labelOverlap":false,"grid":false,"title":"Magnetic field (Oe)","titleFontSize":15,"titleFont":"Liberation Sans","titleFontWeight":"normal","titleColor":"black","titlePadding":10}},
  "y":{"field":"y","type":"quantitative","scale":{"domain":[-5,60],"nice":false,"zero":false},
   "axis":{"values":[0,10,20,30,40,50,60],"tickSize":-6,"tickWidth":1.2,"tickColor":"black","domainColor":"black","domainWidth":1.2,"labelFontSize":14,"labelColor":"black","labelFont":"Liberation Sans","labelPadding":14,"labelFontStyle":{"condition":{"test":"datum.value === 0","value":"italic"},"value":"normal"},"labelFlush":false,"labelOverlap":false,"grid":false,"title":"MR (%)","titleFontSize":15,"titleFont":"Liberation Sans","titleFontWeight":"normal","titleColor":"black","titlePadding":10}},
  "detail":{"field":"b"},
  "color":{"field":"T","type":"nominal","scale":{"domain":["30 K","50 K","70 K","100 K","150 K","200 K","250 K","300 K"],"range":["#000000","#333333","#333333","#333333","#c8c8c8","#888888","#000000","#000000"]},"legend":null},
  "strokeDash":{"field":"T","type":"nominal","scale":{"domain":["30 K","50 K","70 K","100 K","150 K","200 K","250 K","300 K"],"range":[[8,2,1.5,2],[1.5,1.5],[4,2.5],[1.5,2],[1,2],[1,0],[1,0],[1,0]]},"legend":null},
  "order":{"value":null}}},
{"data":{"name":"mr"},"mark":{"type":"point","filled":false,"strokeWidth":1.1,"opacity":1},
 "encoding":{
  "x":{"field":"x","type":"quantitative","scale":{"domain":[-15,5],"nice":false,"zero":false},"axis":null},
  "y":{"field":"y","type":"quantitative","scale":{"domain":[-5,60],"nice":false,"zero":false},"axis":null},
  "color":{"field":"T","type":"nominal","scale":{"domain":["30 K","50 K","70 K","100 K","150 K","200 K","250 K","300 K"],"range":["#000000","#222222","#222222","#222222","#c8c8c8","#666666","#000000","#111111"]},"legend":null},
  "shape":{"field":"T","type":"nominal","scale":{"domain":["30 K","50 K","70 K","100 K","150 K","200 K","250 K","300 K"],"range":["circle","M-1,0H1M0,-1V1","triangle-up","triangle-down","M-1,-1L1,1M-1,1L1,-1","triangle-left","triangle-right","M-1,0A1,1 0 1,0 1,0A1,1 0 1,0 -1,0M-1,0H1M0,-1V1"]},"legend":null},
  "size":{"field":"T","type":"ordinal","scale":{"domain":["30 K","50 K","70 K","100 K","150 K","200 K","250 K","300 K"],"range":[8,40,55,55,20,50,55,45]},"legend":null}}},
{"data":{"name":"vr"},"mark":{"type":"rule","color":"black","strokeWidth":1.1},
 "encoding":{
  "x":{"field":"x","type":"quantitative","scale":{"domain":[-15,5],"nice":false,"zero":false},
   "axis":{"values":[-13,-11,-9,-7,-5,-3,-1,1,3,5],"tickSize":-3,"tickWidth":1.2,"tickColor":"black","labels":false,"domain":false,"grid":false,"title":null}},
  "y":{"field":"y","type":"quantitative","scale":{"domain":[-5,60],"nice":false,"zero":false},
   "axis":{"values":[5,15,25,35,45,55],"tickSize":-3,"tickWidth":1.2,"tickColor":"black","labels":false,"domain":false,"grid":false,"title":null}},
  "y2":{"field":"y2"}}},
{"data":{"name":"hr"},"mark":{"type":"rule","color":"black","strokeWidth":1.1},
 "encoding":{
  "x":{"field":"x","type":"quantitative","scale":{"domain":[-15,5],"nice":false,"zero":false},"axis":null},
  "x2":{"field":"x2"},
  "y":{"field":"y","type":"quantitative","scale":{"domain":[-5,60],"nice":false,"zero":false},"axis":null}}},
{"data":{"name":"ah"},"mark":{"type":"point","filled":true,"color":"black","size":60,"opacity":1},
 "encoding":{
  "x":{"field":"x","type":"quantitative","scale":{"domain":[-15,5],"nice":false,"zero":false},"axis":null},
  "y":{"field":"y","type":"quantitative","scale":{"domain":[-5,60],"nice":false,"zero":false},"axis":null},
  "shape":{"field":"s","type":"nominal","scale":{"domain":["R","L"],"range":["M-1,-0.45L1,0L-1,0.45Z","M1,-0.45L-1,0L1,0.45Z"]},"legend":null}}},
{"data":{"name":"tx1"},"mark":{"type":"text","fontSize":21,"font":"Liberation Sans","color":"black","align":"center","baseline":"middle"},
 "encoding":{
  "x":{"field":"x","type":"quantitative","scale":{"domain":[-15,5],"nice":false,"zero":false},"axis":null},
  "y":{"field":"y","type":"quantitative","scale":{"domain":[-5,60],"nice":false,"zero":false},"axis":null},
  "text":{"field":"t"}}},
{"data":{"name":"tx2"},"mark":{"type":"text","fontSize":15,"font":"Liberation Sans","color":"black","align":"center","baseline":"middle"},
 "encoding":{
  "x":{"field":"x","type":"quantitative","scale":{"domain":[-15,5],"nice":false,"zero":false},"axis":null},
  "y":{"field":"y","type":"quantitative","scale":{"domain":[-5,60],"nice":false,"zero":false},"axis":null},
  "text":{"field":"t"}}},
{"data":{"name":"leg"},"mark":{"type":"point","filled":false,"opacity":0,"strokeWidth":1},
 "encoding":{
  "shape":{"field":"T","type":"nominal","scale":{"domain":["30 K","50 K","70 K","100 K","150 K","200 K","250 K","300 K"],"range":["M-1.05,0H0.4M0.7,0H1M1.3,0H2.75","M-1.05,0H-0.85M-0.65,0H-0.45M-0.25,0H-0.05M0.15,0H0.35M0.6,0H1.1M0.85,-0.25V0.25M1.35,0H2.75","M-0.9,0H-0.6M0.55,0.25L0.85,-0.3L1.15,0.25ZM2.2,0H2.5","M-1.05,0H-0.9M-0.7,0H-0.55M-0.35,0H-0.2M0,0H0.15M0.5,-0.25L1.2,-0.25L0.85,0.35ZM1.55,0H1.7M1.9,0H2.05M2.25,0H2.4M2.6,0H2.75","M0.65,-0.2L1.05,0.2M0.65,0.2L1.05,-0.2","M1.05,-0.3L0.65,0L1.05,0.3","M-1.05,0H0.55M1.2,0H2.75M0.55,-0.35L1.2,0L0.55,0.35Z","M-1.05,0H0.5M1.2,0H2.75M0.5,0A0.35,0.35 0 1,0 1.2,0A0.35,0.35 0 1,0 0.5,0M0.85,-0.35V0.35"]},
   "legend":{"title":null,"orient":"none","legendX":454,"legendY":12.5,"padding":0,"symbolSize":400,"symbolStrokeWidth":1,"symbolOpacity":1,"labelFontSize":14,"labelFont":"Liberation Sans","labelColor":"black","labelOffset":22,"rowPadding":2}},
  "color":{"field":"T","type":"nominal","scale":{"domain":["30 K","50 K","70 K","100 K","150 K","200 K","250 K","300 K"],"range":["#000000","#222222","#333333","#222222","#eeeeee","#aaaaaa","#000000","#555555"]},
   "legend":{"title":null,"orient":"none","legendX":454,"legendY":12.5,"padding":0,"symbolSize":400,"symbolStrokeWidth":1,"symbolOpacity":1,"labelFontSize":14,"labelFont":"Liberation Sans","labelColor":"black","labelOffset":22,"rowPadding":2}}}}
],
"resolve":{"scale":{"color":"independent","shape":"independent","size":"independent","strokeDash":"independent"},"axis":{"x":"independent","y":"independent"}}
}
